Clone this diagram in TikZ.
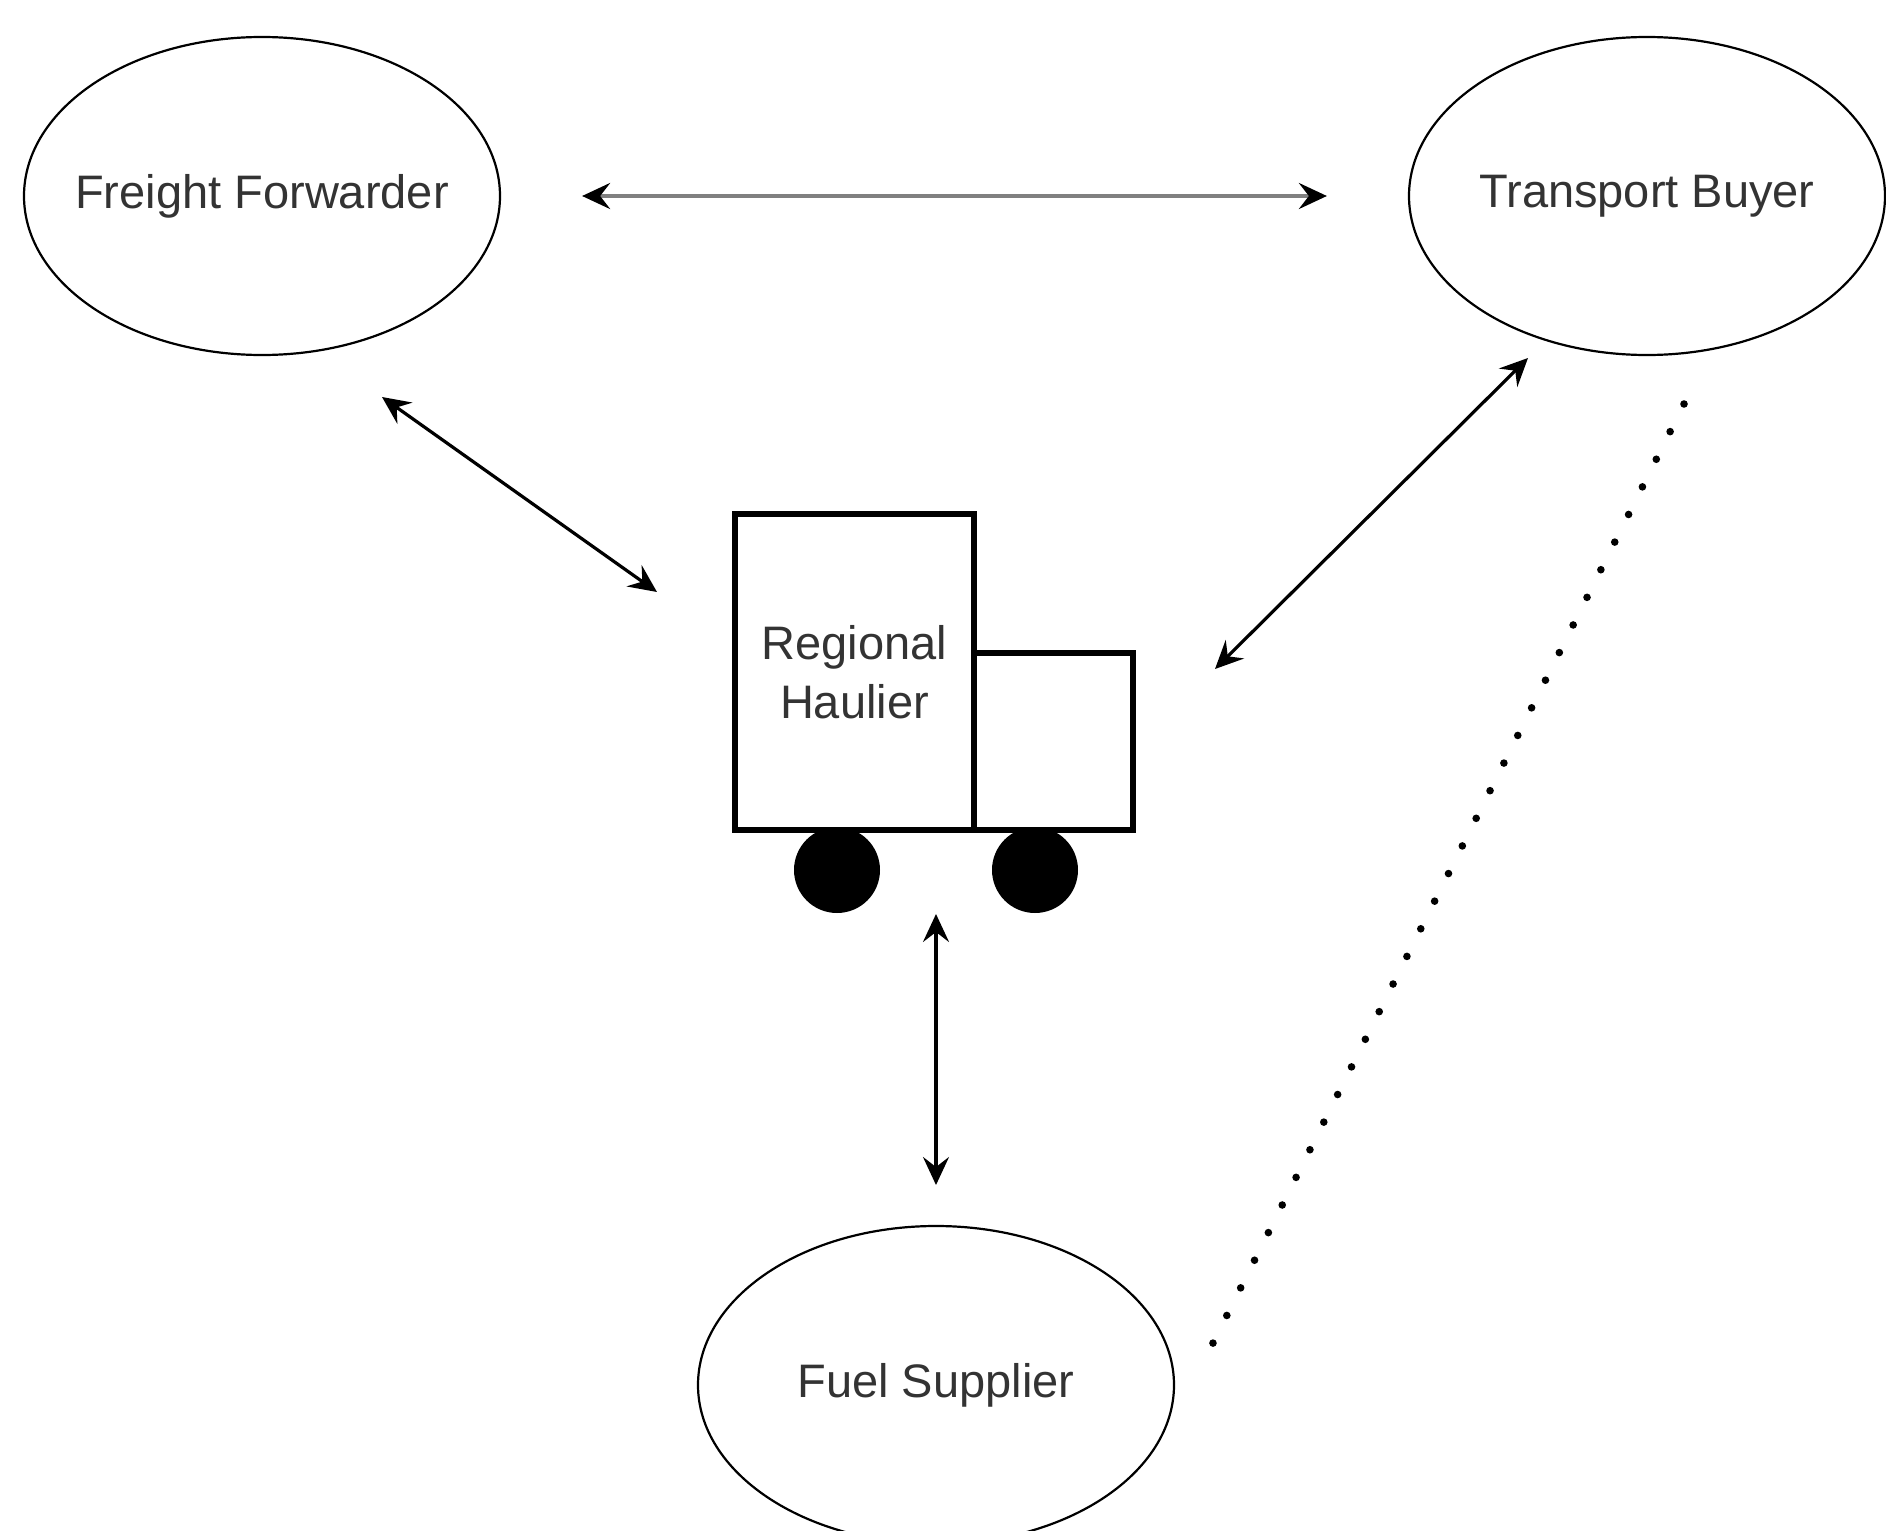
\documentclass[tikz,border=0pt]{standalone}
\usepackage{fontspec}
\setmainfont{Liberation Sans}
\usetikzlibrary{shapes.geometric,arrows.meta}
\begin{document}
\begin{tikzpicture}[x=0.5pt, y=-0.5pt,
  party/.style={draw, ellipse, line width=1.1pt, minimum width=238pt, minimum height=159pt, inner sep=0pt, text=txt, font=\fontsize{23.5}{29.5}\selectfont},
  truck/.style={draw, line width=2.8pt, inner sep=0pt, outer sep=0pt},
  linktip/.tip={Stealth[length=14pt,width=13pt,inset=5pt,color=black]},
  link/.style={line width=1.6pt, {linktip}-{linktip}}]
\definecolor{txt}{HTML}{333333}
\definecolor{linkgrey}{HTML}{808080}
\useasboundingbox (0,0) rectangle (1886,1531);
% parties
\node[party] (ff) at (262,196) {\makebox[0pt]{Freight Forwarder}};
\node[party] (tb) at (1647,196) {\makebox[0pt]{Transport Buyer}};
\node[party] (fs) at (936,1385) {\makebox[0pt]{Fuel Supplier}};
% the truck
\node[truck, minimum width=119.5pt, minimum height=158pt, align=center, text=txt, font=\fontsize{23.5}{29.5}\selectfont] (haulier) at (854.5,672) {Regional\\Haulier};
\node[truck, minimum width=79.5pt, minimum height=88.5pt, anchor=south west] (cab) at (haulier.south east) {};
\foreach \x in {837,1035} \fill (\x,870) circle (21.5pt);
% ends of the links
\coordinate (ffa) at (382,397);
\coordinate (ffb) at (657,592);
\coordinate (tba) at (1528,358);
\coordinate (tbb) at (1215,669);
\coordinate (fsa) at (936,914);
\coordinate (fsb) at (936,1185);
\coordinate (dota) at (1684,404);
\coordinate (dotb) at (1212,1345);
\draw[link, linkgrey, line width=2pt, shorten <=40.5pt, shorten >=40.5pt] (ff.east) -- (tb.west);
\draw[link] (ffa) -- (ffb);
\draw[link] (tba) -- (tbb);
\draw[link] (fsa) -- (fsb);
\draw[line width=3.8pt, line cap=round, dash pattern=on 0pt off 15.45pt] (dota) -- (dotb);
\end{tikzpicture}
\end{document}
